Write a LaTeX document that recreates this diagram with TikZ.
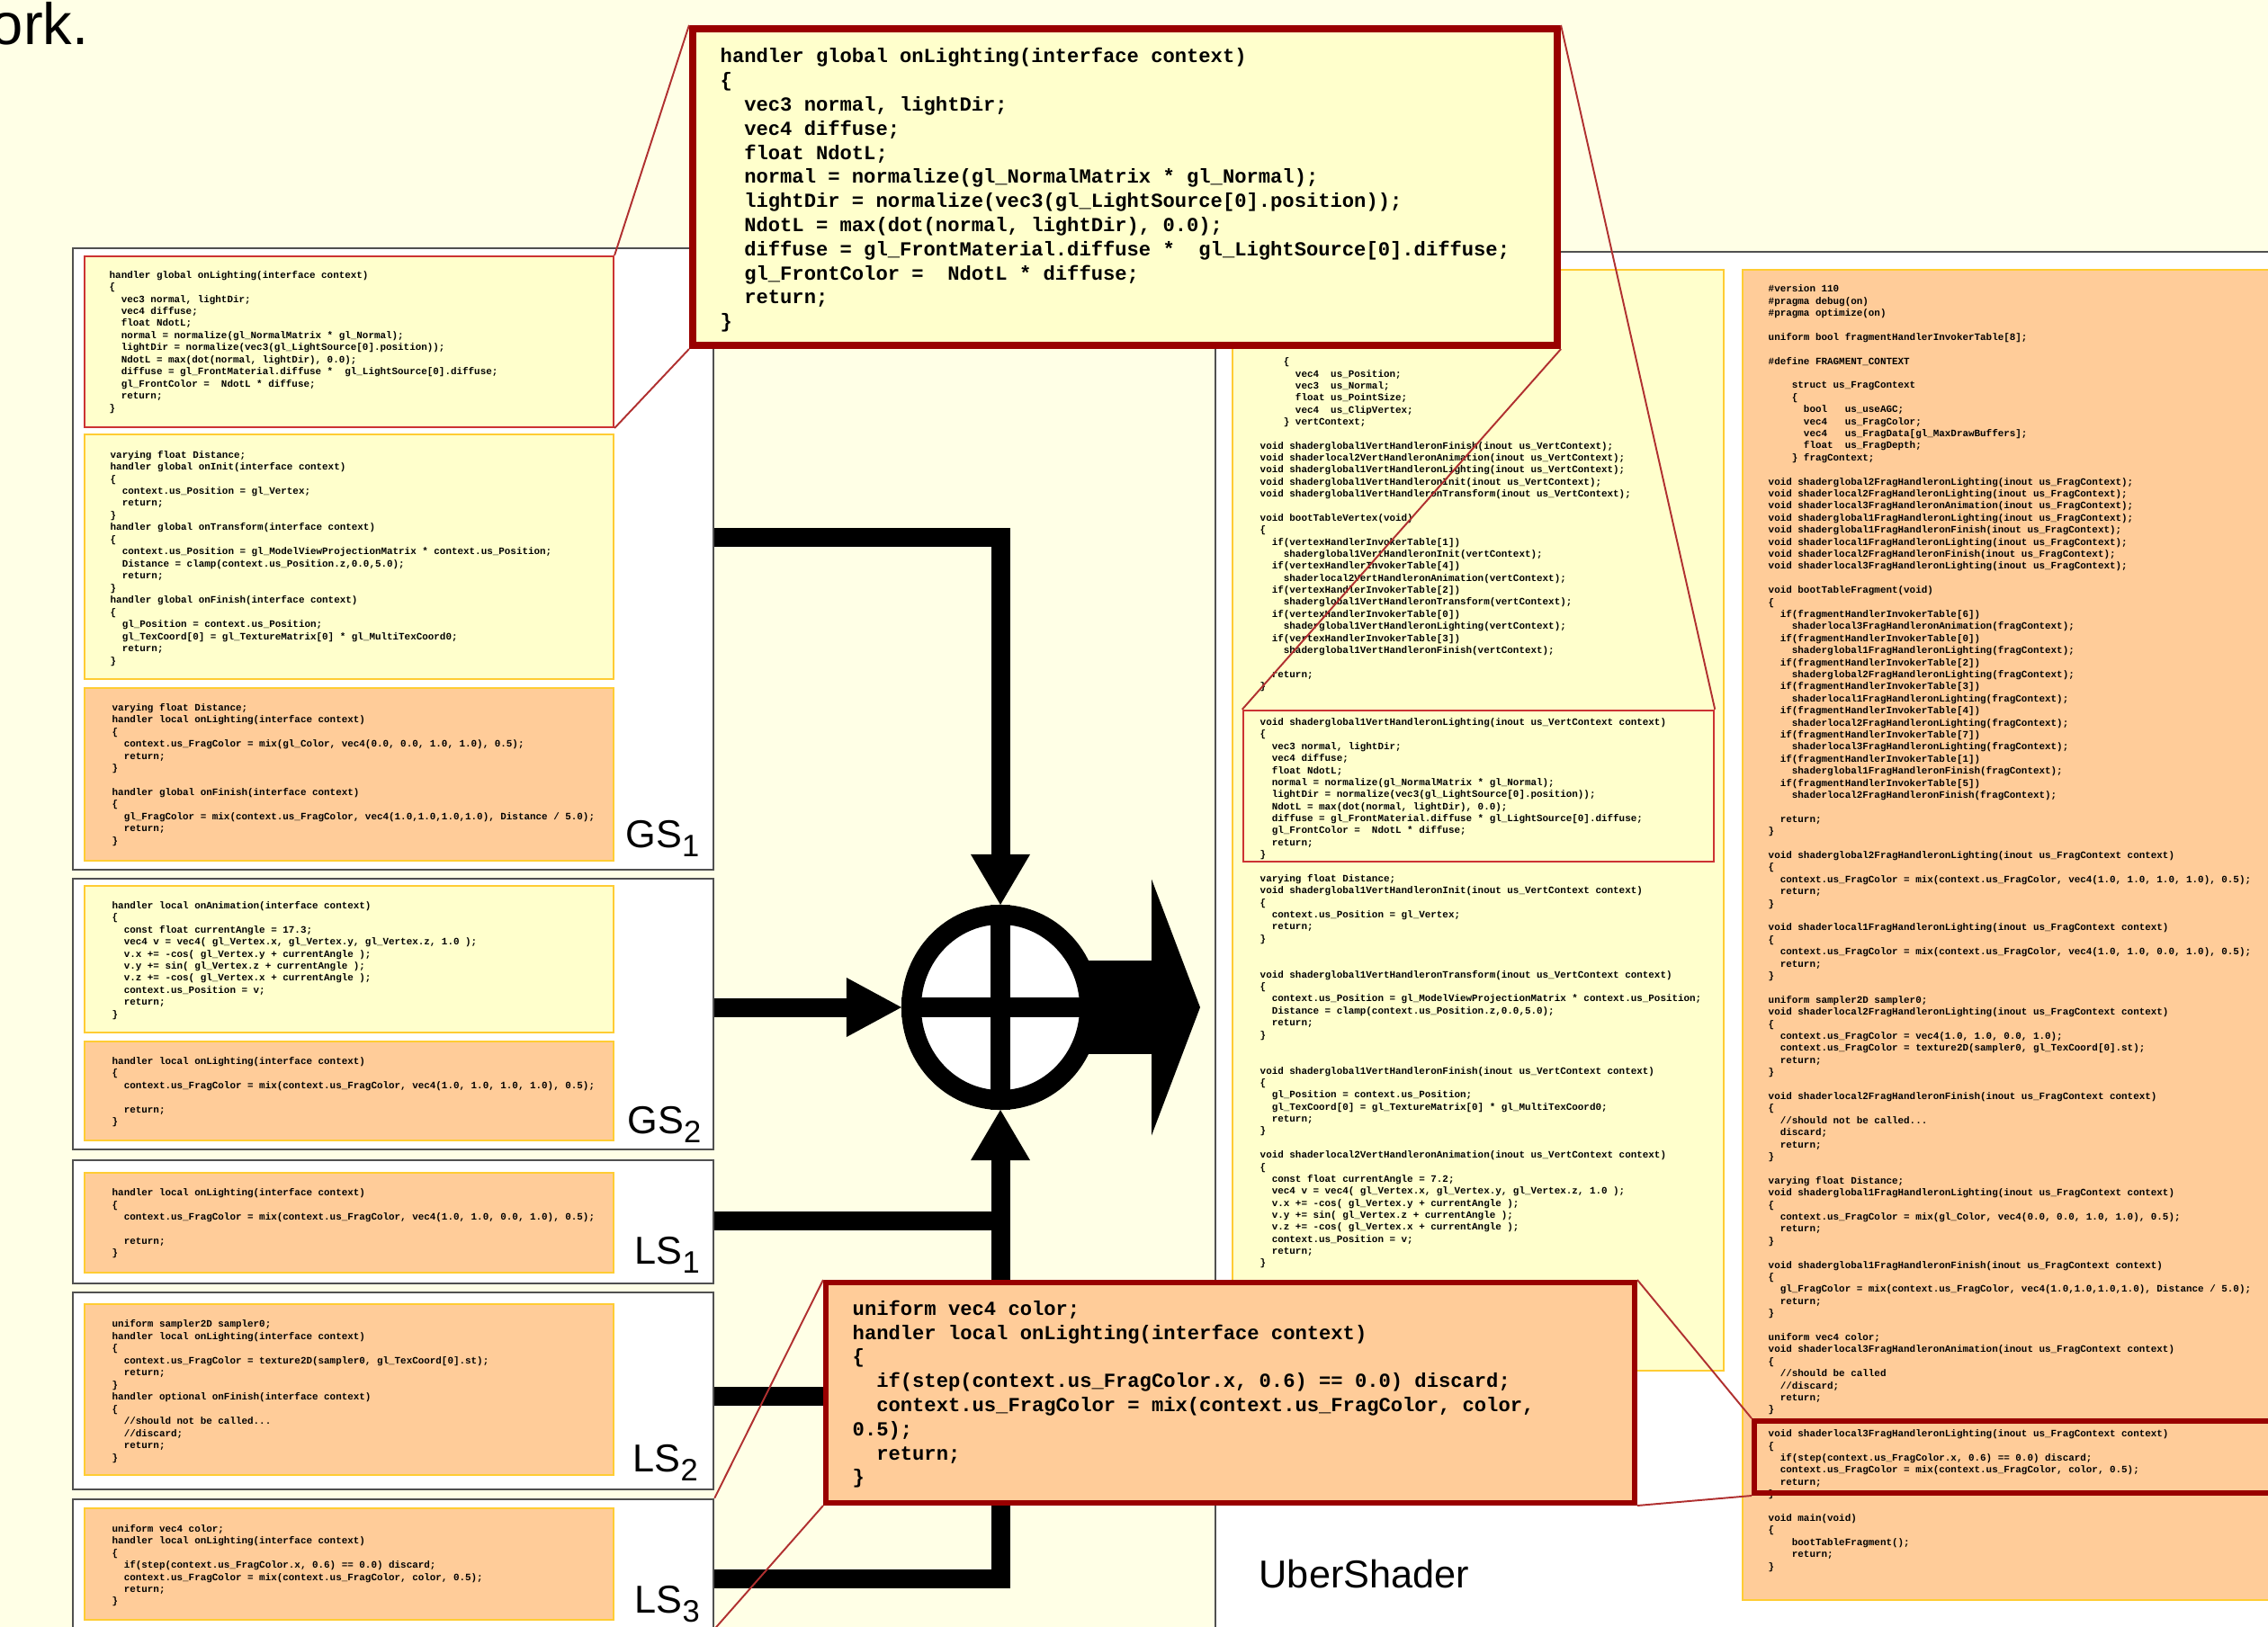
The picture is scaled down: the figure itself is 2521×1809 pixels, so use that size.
\documentclass[tikz,border=0pt]{standalone}
\usepackage{fontspec}
\usetikzlibrary{fit,calc,shapes.geometric}
\newfontfamily\codefont{Liberation Mono}[WordSpace={1,0,0}]
\newfontfamily\lblfont{Liberation Sans}
\definecolor{bgcream}{HTML}{FFFFE6}
\definecolor{yfill}{HTML}{FFFFCC}
\definecolor{ofill}{HTML}{FFCC99}
\definecolor{gold}{HTML}{FFCC33}
\definecolor{boxgray}{HTML}{505050}
\definecolor{darkred}{HTML}{990000}
\definecolor{lightred}{HTML}{CC3333}
\definecolor{zoomred}{HTML}{B03030}
\newcommand\cind[1]{\hspace*{#1\dimexpr0.6em\relax}}
\newcommand\lsub[1]{\raisebox{-3pt}{\fontsize{9.8pt}{10pt}\selectfont #1}}
\newcommand\blankln{\mbox{}}
\newenvironment{codelines}{\begin{tabular}{@{}l@{}}}{\end{tabular}}
\begin{document}
\begin{tikzpicture}[x=0.01cm,y=-0.01cm,
  whitebox/.style={draw=boxgray,line width=0.7pt,fill=white,inner sep=0pt},
  ybox/.style={draw=gold,line width=0.8pt,fill=yfill,inner sep=0pt},
  obox/.style={draw=gold,line width=0.8pt,fill=ofill,inner sep=0pt},
  redybox/.style={draw=lightred,line width=0.6pt,fill=yfill,inner sep=0pt},
  redframe/.style={draw=lightred,line width=0.7pt,inner sep=0pt},
  thickframe/.style={draw=darkred,line width=1.7pt,inner sep=0pt},
  callY/.style={draw=darkred,line width=2.3pt,fill=yfill,inner sep=0pt},
  callO/.style={draw=darkred,line width=1.7pt,fill=ofill,inner sep=0pt},
  zoomline/.style={draw=zoomred,line width=0.55pt},
  shaft/.style={draw=black,line width=5.97pt,line join=miter},
  tinyL/.style={anchor=north west,inner sep=0pt,font=\codefont\bfseries\fontsize{3.1pt}{3.835pt}\selectfont\frenchspacing},
  tinyR/.style={anchor=north west,inner sep=0pt,font=\codefont\bfseries\fontsize{3.1pt}{3.80pt}\selectfont\frenchspacing},
  tinyO/.style={anchor=north west,inner sep=0pt,font=\codefont\bfseries\fontsize{3.1pt}{3.81pt}\selectfont\frenchspacing},
  bigcode/.style={anchor=north west,inner sep=0pt,font=\codefont\bfseries\fontsize{6.3pt}{7.62pt}\selectfont\frenchspacing},
  lbl/.style={anchor=base west,inner sep=0pt,font=\lblfont\fontsize{12.3pt}{14pt}\selectfont}]
\useasboundingbox (0,0) rectangle (2521,1809);
\clip (0,0) rectangle (2521,1809);
\fill[bgcream] (0,0) rectangle (2521,1809);

\node[anchor=base east,inner sep=0pt,font=\lblfont\fontsize{18.5pt}{22pt}\selectfont] (ork) at (99,49) {ork.};

% ---------------- UberShader panel ----------------
\node[whitebox,fit={(1351,280)(2560,1830)}] (uber) {};
\node[ybox,fit={(1370,300)(1916,1524)}] (vpanel) {};
\node[obox,fit={(1937,300)(2560,1779)}] (fpanel) {};
\node[lbl] (uberlbl) at (1399,1765) {UberShader};

\node[tinyR] (vtext) at (1400,395.6) {\begin{codelines}
\cind{4}\{\\
\cind{6}vec4\ \ us\_Position;\\
\cind{6}vec3\ \ us\_Normal;\\
\cind{6}float us\_PointSize;\\
\cind{6}vec4\ \ us\_ClipVertex;\\
\cind{4}\} vertContext;\\
\blankln\\
void shaderglobal1VertHandleronFinish(inout us\_VertContext);\\
void shaderlocal2VertHandleronAnimation(inout us\_VertContext);\\
void shaderglobal1VertHandleronLighting(inout us\_VertContext);\\
void shaderglobal1VertHandleronInit(inout us\_VertContext);\\
void shaderglobal1VertHandleronTransform(inout us\_VertContext);\\
\blankln\\
void bootTableVertex(void)\\
\{\\
\cind{2}if(vertexHandlerInvokerTable[1])\\
\cind{4}shaderglobal1VertHandleronInit(vertContext);\\
\cind{2}if(vertexHandlerInvokerTable[4])\\
\cind{4}shaderlocal2VertHandleronAnimation(vertContext);\\
\cind{2}if(vertexHandlerInvokerTable[2])\\
\cind{4}shaderglobal1VertHandleronTransform(vertContext);\\
\cind{2}if(vertexHandlerInvokerTable[0])\\
\cind{4}shaderglobal1VertHandleronLighting(vertContext);\\
\cind{2}if(vertexHandlerInvokerTable[3])\\
\cind{4}shaderglobal1VertHandleronFinish(vertContext);\\
\blankln\\
\cind{2}return;\\
\}\\
\blankln\\
\blankln\\
void shaderglobal1VertHandleronLighting(inout us\_VertContext context)\\
\{\\
\cind{2}vec3 normal, lightDir;\\
\cind{2}vec4 diffuse;\\
\cind{2}float NdotL;\\
\cind{2}normal = normalize(gl\_NormalMatrix * gl\_Normal);\\
\cind{2}lightDir = normalize(vec3(gl\_LightSource[0].position));\\
\cind{2}NdotL = max(dot(normal, lightDir), 0.0);\\
\cind{2}diffuse = gl\_FrontMaterial.diffuse * gl\_LightSource[0].diffuse;\\
\cind{2}gl\_FrontColor =\ \ NdotL * diffuse;\\
\cind{2}return;\\
\}\\
\blankln\\
varying float Distance;\\
void shaderglobal1VertHandleronInit(inout us\_VertContext context)\\
\{\\
\cind{2}context.us\_Position = gl\_Vertex;\\
\cind{2}return;\\
\}\\
\blankln\\
\blankln\\
void shaderglobal1VertHandleronTransform(inout us\_VertContext context)\\
\{\\
\cind{2}context.us\_Position = gl\_ModelViewProjectionMatrix * context.us\_Position;\\
\cind{2}Distance = clamp(context.us\_Position.z,0.0,5.0);\\
\cind{2}return;\\
\}\\
\blankln\\
\blankln\\
void shaderglobal1VertHandleronFinish(inout us\_VertContext context)\\
\{\\
\cind{2}gl\_Position = context.us\_Position;\\
\cind{2}gl\_TexCoord[0] = gl\_TextureMatrix[0] * gl\_MultiTexCoord0;\\
\cind{2}return;\\
\}\\
\blankln\\
void shaderlocal2VertHandleronAnimation(inout us\_VertContext context)\\
\{\\
\cind{2}const float currentAngle = 7.2;\\
\cind{2}vec4 v = vec4( gl\_Vertex.x, gl\_Vertex.y, gl\_Vertex.z, 1.0 );\\
\cind{2}v.x += -cos( gl\_Vertex.y + currentAngle );\\
\cind{2}v.y += sin( gl\_Vertex.z + currentAngle );\\
\cind{2}v.z += -cos( gl\_Vertex.x + currentAngle );\\
\cind{2}context.us\_Position = v;\\
\cind{2}return;\\
\}
\end{codelines}};
\node[redframe,fit={(1382,790)(1905,958)}] (vred) {};

\node[tinyO] (ftext) at (1965,314.7) {\begin{codelines}
\#version 110\\
\#pragma debug(on)\\
\#pragma optimize(on)\\
\blankln\\
uniform bool fragmentHandlerInvokerTable[8];\\
\blankln\\
\#define FRAGMENT\_CONTEXT\\
\blankln\\
\cind{4}struct us\_FragContext\\
\cind{4}\{\\
\cind{6}bool\ \ \ us\_useAGC;\\
\cind{6}vec4\ \ \ us\_FragColor;\\
\cind{6}vec4\ \ \ us\_FragData[gl\_MaxDrawBuffers];\\
\cind{6}float\ \ us\_FragDepth;\\
\cind{4}\} fragContext;\\
\blankln\\
void shaderglobal2FragHandleronLighting(inout us\_FragContext);\\
void shaderlocal2FragHandleronLighting(inout us\_FragContext);\\
void shaderlocal3FragHandleronAnimation(inout us\_FragContext);\\
void shaderglobal1FragHandleronLighting(inout us\_FragContext);\\
void shaderglobal1FragHandleronFinish(inout us\_FragContext);\\
void shaderlocal1FragHandleronLighting(inout us\_FragContext);\\
void shaderlocal2FragHandleronFinish(inout us\_FragContext);\\
void shaderlocal3FragHandleronLighting(inout us\_FragContext);\\
\blankln\\
void bootTableFragment(void)\\
\{\\
\cind{2}if(fragmentHandlerInvokerTable[6])\\
\cind{4}shaderlocal3FragHandleronAnimation(fragContext);\\
\cind{2}if(fragmentHandlerInvokerTable[0])\\
\cind{4}shaderglobal1FragHandleronLighting(fragContext);\\
\cind{2}if(fragmentHandlerInvokerTable[2])\\
\cind{4}shaderglobal2FragHandleronLighting(fragContext);\\
\cind{2}if(fragmentHandlerInvokerTable[3])\\
\cind{4}shaderlocal1FragHandleronLighting(fragContext);\\
\cind{2}if(fragmentHandlerInvokerTable[4])\\
\cind{4}shaderlocal2FragHandleronLighting(fragContext);\\
\cind{2}if(fragmentHandlerInvokerTable[7])\\
\cind{4}shaderlocal3FragHandleronLighting(fragContext);\\
\cind{2}if(fragmentHandlerInvokerTable[1])\\
\cind{4}shaderglobal1FragHandleronFinish(fragContext);\\
\cind{2}if(fragmentHandlerInvokerTable[5])\\
\cind{4}shaderlocal2FragHandleronFinish(fragContext);\\
\blankln\\
\cind{2}return;\\
\}\\
\blankln\\
void shaderglobal2FragHandleronLighting(inout us\_FragContext context)\\
\{\\
\cind{2}context.us\_FragColor = mix(context.us\_FragColor, vec4(1.0, 1.0, 1.0, 1.0), 0.5);\\
\cind{2}return;\\
\}\\
\blankln\\
void shaderlocal1FragHandleronLighting(inout us\_FragContext context)\\
\{\\
\cind{2}context.us\_FragColor = mix(context.us\_FragColor, vec4(1.0, 1.0, 0.0, 1.0), 0.5);\\
\cind{2}return;\\
\}\\
\blankln\\
uniform sampler2D sampler0;\\
void shaderlocal2FragHandleronLighting(inout us\_FragContext context)\\
\{\\
\cind{2}context.us\_FragColor = vec4(1.0, 1.0, 0.0, 1.0);\\
\cind{2}context.us\_FragColor = texture2D(sampler0, gl\_TexCoord[0].st);\\
\cind{2}return;\\
\}\\
\blankln\\
void shaderlocal2FragHandleronFinish(inout us\_FragContext context)\\
\{\\
\cind{2}//should not be called...\\
\cind{2}discard;\\
\cind{2}return;\\
\}\\
\blankln\\
varying float Distance;\\
void shaderglobal1FragHandleronLighting(inout us\_FragContext context)\\
\{\\
\cind{2}context.us\_FragColor = mix(gl\_Color, vec4(0.0, 0.0, 1.0, 1.0), 0.5);\\
\cind{2}return;\\
\}\\
\blankln\\
void shaderglobal1FragHandleronFinish(inout us\_FragContext context)\\
\{\\
\cind{2}gl\_FragColor = mix(context.us\_FragColor, vec4(1.0,1.0,1.0,1.0), Distance / 5.0);\\
\cind{2}return;\\
\}\\
\blankln\\
uniform vec4 color;\\
void shaderlocal3FragHandleronAnimation(inout us\_FragContext context)\\
\{\\
\cind{2}//should be called\\
\cind{2}//discard;\\
\cind{2}return;\\
\}\\
\blankln\\
void shaderlocal3FragHandleronLighting(inout us\_FragContext context)\\
\{\\
\cind{2}if(step(context.us\_FragColor.x, 0.6) == 0.0) discard;\\
\cind{2}context.us\_FragColor = mix(context.us\_FragColor, color, 0.5);\\
\cind{2}return;\\
\}\\
\blankln\\
void main(void)\\
\{\\
\cind{4}bootTableFragment();\\
\cind{4}return;\\
\}
\end{codelines}};
\node[thickframe,fit={(1950,1580)(2560,1660)}] (fred) {};

% ---------------- left column ----------------
\node[whitebox,fit={(81,276)(793,967)}] (gs1) {};
\node[whitebox,fit={(81,977)(793,1278)}] (gs2) {};
\node[whitebox,fit={(81,1290)(793,1427)}] (ls1) {};
\node[whitebox,fit={(81,1437)(793,1656)}] (ls2) {};
\node[whitebox,fit={(81,1667)(793,1810)}] (ls3) {};

\node[redybox,fit={(94,285)(682,475)}] (gs1r) {};
\node[ybox,fit={(94,483)(682,755)}] (gs1y) {};
\node[obox,fit={(94,765)(682,957)}] (gs1o) {};
\node[ybox,fit={(94,985)(682,1148)}] (gs2y) {};
\node[obox,fit={(94,1158)(682,1268)}] (gs2o) {};
\node[obox,fit={(94,1304)(682,1415)}] (ls1o) {};
\node[obox,fit={(94,1450)(682,1640)}] (ls2o) {};
\node[obox,fit={(94,1677)(682,1801)}] (ls3o) {};

\node[tinyL] (t1) at (121,298.9) {\begin{codelines}
handler global onLighting(interface context)\\
\{\\
\cind{2}vec3 normal, lightDir;\\
\cind{2}vec4 diffuse;\\
\cind{2}float NdotL;\\
\cind{2}normal = normalize(gl\_NormalMatrix * gl\_Normal);\\
\cind{2}lightDir = normalize(vec3(gl\_LightSource[0].position));\\
\cind{2}NdotL = max(dot(normal, lightDir), 0.0);\\
\cind{2}diffuse = gl\_FrontMaterial.diffuse *\ \ gl\_LightSource[0].diffuse;\\
\cind{2}gl\_FrontColor =\ \ NdotL * diffuse;\\
\cind{2}return;\\
\}
\end{codelines}};

\node[tinyL] (t2) at (122,498.9) {\begin{codelines}
varying float Distance;\\
handler global onInit(interface context)\\
\{\\
\cind{2}context.us\_Position = gl\_Vertex;\\
\cind{2}return;\\
\}\\
handler global onTransform(interface context)\\
\{\\
\cind{2}context.us\_Position = gl\_ModelViewProjectionMatrix * context.us\_Position;\\
\cind{2}Distance = clamp(context.us\_Position.z,0.0,5.0);\\
\cind{2}return;\\
\}\\
handler global onFinish(interface context)\\
\{\\
\cind{2}gl\_Position = context.us\_Position;\\
\cind{2}gl\_TexCoord[0] = gl\_TextureMatrix[0] * gl\_MultiTexCoord0;\\
\cind{2}return;\\
\}
\end{codelines}};

\node[tinyL] (t3) at (124,779.9) {\begin{codelines}
varying float Distance;\\
handler local onLighting(interface context)\\
\{\\
\cind{2}context.us\_FragColor = mix(gl\_Color, vec4(0.0, 0.0, 1.0, 1.0), 0.5);\\
\cind{2}return;\\
\}\\
\blankln\\
handler global onFinish(interface context)\\
\{\\
\cind{2}gl\_FragColor = mix(context.us\_FragColor, vec4(1.0,1.0,1.0,1.0), Distance / 5.0);\\
\cind{2}return;\\
\}
\end{codelines}};

\node[tinyL] (t4) at (124,999.9) {\begin{codelines}
handler local onAnimation(interface context)\\
\{\\
\cind{2}const float currentAngle = 17.3;\\
\cind{2}vec4 v = vec4( gl\_Vertex.x, gl\_Vertex.y, gl\_Vertex.z, 1.0 );\\
\cind{2}v.x += -cos( gl\_Vertex.y + currentAngle );\\
\cind{2}v.y += sin( gl\_Vertex.z + currentAngle );\\
\cind{2}v.z += -cos( gl\_Vertex.x + currentAngle );\\
\cind{2}context.us\_Position = v;\\
\cind{2}return;\\
\}
\end{codelines}};

\node[tinyL] (t5) at (124,1172.9) {\begin{codelines}
handler local onLighting(interface context)\\
\{\\
\cind{2}context.us\_FragColor = mix(context.us\_FragColor, vec4(1.0, 1.0, 1.0, 1.0), 0.5);\\
\blankln\\
\cind{2}return;\\
\}
\end{codelines}};

\node[tinyL] (t6) at (124,1319.4) {\begin{codelines}
handler local onLighting(interface context)\\
\{\\
\cind{2}context.us\_FragColor = mix(context.us\_FragColor, vec4(1.0, 1.0, 0.0, 1.0), 0.5);\\
\blankln\\
\cind{2}return;\\
\}
\end{codelines}};

\node[tinyL] (t7) at (124,1465.5) {\begin{codelines}
uniform sampler2D sampler0;\\
handler local onLighting(interface context)\\
\{\\
\cind{2}context.us\_FragColor = texture2D(sampler0, gl\_TexCoord[0].st);\\
\cind{2}return;\\
\}\\
handler optional onFinish(interface context)\\
\{\\
\cind{2}//should not be called...\\
\cind{2}//discard;\\
\cind{2}return;\\
\}
\end{codelines}};

\node[tinyL] (t8) at (124,1692.9) {\begin{codelines}
uniform vec4 color;\\
handler local onLighting(interface context)\\
\{\\
\cind{2}if(step(context.us\_FragColor.x, 0.6) == 0.0) discard;\\
\cind{2}context.us\_FragColor = mix(context.us\_FragColor, color, 0.5);\\
\cind{2}return;\\
\}
\end{codelines}};

\node[lbl] (gs1lbl) at (695,942) {GS\lsub{1}};
\node[lbl] (gs2lbl) at (697,1260) {GS\lsub{2}};
\node[lbl] (ls1lbl) at (705,1405) {LS\lsub{1}};
\node[lbl] (ls2lbl) at (703,1636) {LS\lsub{2}};
\node[lbl] (ls3lbl) at (705,1793) {LS\lsub{3}};

% ---------------- combiner ----------------
\coordinate (pc) at (1112,1120);
\coordinate (outtip) at (1334,1120);
\draw[line width=29.6pt] (pc) -- ($(outtip)+(-50,0)$);
\fill (outtip) -- ++(-54,-142.5) -- ++(0,285) -- cycle;
\node[ellipse,draw,line width=6.26pt,fill=white,minimum width=1.98cm,minimum height=2.06cm,inner sep=0pt] (plus) at (pc) {};
\draw[line width=6.26pt] (plus.north) -- (plus.south) (plus.west) -- (plus.east);

\draw[shaft] (gs1.east |- 0,597.5) -| ($(plus.north)+(0,-50)$);
\fill (plus.north) -- ++(-33,-56) -- ++(66,0) -- cycle;
\draw[shaft] (gs2.east |- plus.west) -- ($(plus.west)+(-55,0)$);
\fill (plus.west) -- ++(-61,-33) -- ++(0,66) -- cycle;
\draw[shaft] (ls1.east |- 0,1357) -- (plus.south |- 0,1357);
\draw[shaft] (ls2.east |- 0,1552) -- (plus.south |- 0,1552);
\draw[shaft] (ls3.east |- 0,1755) -| ($(plus.south)+(0,50)$);
\fill (plus.south) -- ++(-33,56) -- ++(66,0) -- cycle;

% ---------------- callouts ----------------
\node[callY,fit={(770,32)(1731,384)}] (ctop) {};
\node[callO,fit={(918,1426)(1817,1671)}] (cbot) {};
\draw[zoomline] (ctop.north west) -- (gs1r.north east);
\draw[zoomline] (ctop.south west) -- (gs1r.south east);
\draw[zoomline] (ctop.north east) -- (vred.north east);
\draw[zoomline] (ctop.south east) -- (vred.north west);
\draw[zoomline] (cbot.north west) -- (ls3.north east);
\draw[zoomline] (cbot.south west) -- (ls3.south east);
\draw[zoomline] (cbot.north east) -- (fred.north west);
\draw[zoomline] (cbot.south east) -- (fred.south west);

\node[bigcode] (ctoptext) at (800,50.5) {\begin{codelines}
handler global onLighting(interface context)\\
\{\\
\cind{2}vec3 normal, lightDir;\\
\cind{2}vec4 diffuse;\\
\cind{2}float NdotL;\\
\cind{2}normal = normalize(gl\_NormalMatrix * gl\_Normal);\\
\cind{2}lightDir = normalize(vec3(gl\_LightSource[0].position));\\
\cind{2}NdotL = max(dot(normal, lightDir), 0.0);\\
\cind{2}diffuse = gl\_FrontMaterial.diffuse *\ \ gl\_LightSource[0].diffuse;\\
\cind{2}gl\_FrontColor =\ \ NdotL * diffuse;\\
\cind{2}return;\\
\}
\end{codelines}};

\node[bigcode] (cbottext) at (947,1442.8) {\begin{codelines}
uniform vec4 color;\\
handler local onLighting(interface context)\\
\{\\
\cind{2}if(step(context.us\_FragColor.x, 0.6) == 0.0) discard;\\
\cind{2}context.us\_FragColor = mix(context.us\_FragColor, color,\\
0.5);\\
\cind{2}return;\\
\}
\end{codelines}};
\end{tikzpicture}
\end{document}
